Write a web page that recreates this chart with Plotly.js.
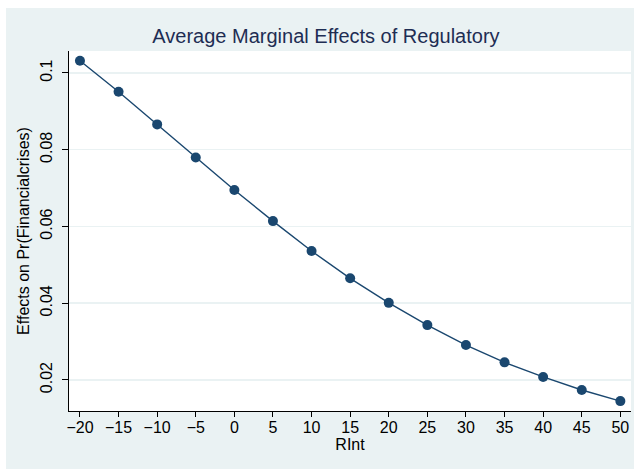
<!DOCTYPE html>
<html>
<head>
<meta charset="utf-8">
<script src="https://cdn.plot.ly/plotly-3.0.1.min.js"></script>
<style>
  html, body { margin: 0; padding: 0; background: #ffffff; width: 635px; height: 470px; overflow: hidden; }
  #chart { position: absolute; left: 6px; top: 8px; width: 628px; height: 461px; }
</style>
</head>
<body>
<div id="chart"></div>
<script>
const rint = [-20, -15, -10, -5, 0, 5, 10, 15, 20, 25, 30, 35, 40, 45, 50];
const effects = [0.1032, 0.0951, 0.0866, 0.0780, 0.0695, 0.0614, 0.0536, 0.0465, 0.0401, 0.0343, 0.0291, 0.0246, 0.0208, 0.0174, 0.0145];
const xTickVals = [-20, -15, -10, -5, 0, 5, 10, 15, 20, 25, 30, 35, 40, 45, 50];
const yTickVals = [0.02, 0.04, 0.06, 0.08, 0.1];
const yTickText = ["0.02", "0.04", "0.06", "0.08", "0.1"];

const trace = {
  x: rint,
  y: effects,
  type: 'scatter',
  mode: 'lines+markers',
  line: { color: '#1a476f', width: 1.4 },
  marker: { color: '#1a476f', size: 10 },
  hoverinfo: 'skip'
};

const fam = 'Arial, "Liberation Sans", Helvetica, sans-serif';
const tickFont = { family: fam, size: 16, color: '#000000' };
const axTitleFont = { family: fam, size: 16, color: '#000000' };

const layout = {
  width: 628,
  height: 461,
  paper_bgcolor: '#eaf2f3',
  plot_bgcolor: '#ffffff',
  margin: { l: 63, r: 3, t: 43, b: 58 },
  showlegend: false,
  font: tickFont,
  title: {
    text: 'Average Marginal Effects of Regulatory',
    font: { family: fam, size: 20, color: '#1e2d53' },
    x: 0.5095, xanchor: 'center',
    y: 1, yref: 'paper', yanchor: 'bottom', pad: { b: 8 }
  },
  xaxis: {
    range: [-21.42, 51.38],
    tickvals: xTickVals,
    ticks: 'outside', ticklen: 5, tickwidth: 1, tickcolor: '#000000',
    ticklabelstandoff: -3,
    showline: true, linecolor: '#000000', linewidth: 1,
    showgrid: false, zeroline: false,
    tickfont: tickFont,
    title: { text: 'RInt', font: axTitleFont, standoff: 0 }
  },
  yaxis: {
    range: [0.01192, 0.10573],
    tickvals: yTickVals,
    ticktext: yTickText,
    tickangle: -90,
    ticks: 'outside', ticklen: 6, tickwidth: 1, tickcolor: '#000000',
    ticklabelstandoff: 4,
    showline: true, linecolor: '#000000', linewidth: 1,
    showgrid: true, gridcolor: '#eaf2f3', gridwidth: 1.5,
    zeroline: false,
    tickfont: tickFont,
    title: { text: 'Effects on Pr(Financialcrises)', font: axTitleFont, standoff: 3 }
  }
};

Plotly.newPlot('chart', [trace], layout, { displayModeBar: false, staticPlot: true });
</script>
</body>
</html>
